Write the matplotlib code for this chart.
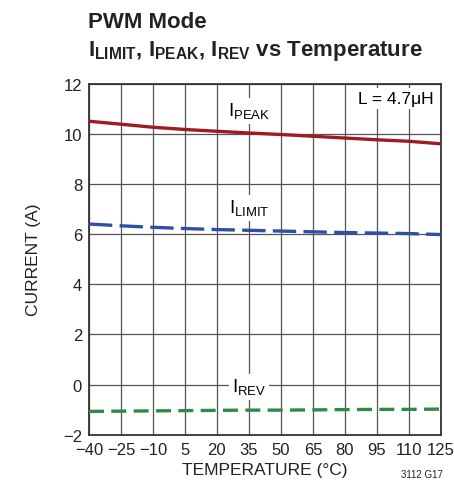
import matplotlib
matplotlib.use('Agg')
import matplotlib.pyplot as plt
from matplotlib import font_manager

# pick a narrow face if one is there
names = {f.name for f in font_manager.fontManager.ttflist}
family = 'Liberation Sans Narrow' if 'Liberation Sans Narrow' in names else 'Liberation Sans'
plt.rcParams['font.family'] = [family, 'DejaVu Sans']

temps = [-40, -25, -10, 5, 20, 35, 50, 65, 80, 95, 110, 125]
i_peak = [10.5, 10.38, 10.26, 10.17, 10.1, 10.03, 9.97, 9.9, 9.83, 9.76, 9.7, 9.6]
i_limit = [6.4, 6.33, 6.27, 6.22, 6.18, 6.15, 6.12, 6.09, 6.06, 6.04, 6.02, 5.98]
i_rev = [-1.07, -1.06, -1.05, -1.04, -1.03, -1.02, -1.02, -1.01, -1.0, -0.99, -0.99, -0.98]
yticks = [-2, 0, 2, 4, 6, 8, 10, 12]
xlabels = ['\u221240', '\u221225', '\u221210', '5', '20', '35', '50', '65', '80', '95', '110', '125']
ylabels = ['\u22122', '0', '2', '4', '6', '8', '10', '12']

fig = plt.figure(figsize=(4.54, 4.89), dpi=100)
ax = fig.add_axes([0.196, 0.109, 0.775, 0.718])

ax.plot(temps, i_peak, color='#9e1b22', lw=2.4, zorder=3)
ax.plot(temps, i_limit, color='#2f4fa3', lw=2.4, dashes=(7, 2.2), zorder=3)
ax.plot(temps, i_rev, color='#2f8a46', lw=2.4, dashes=(4.5, 2.2), zorder=3)

ax.set_xlim(-40, 125)
ax.set_ylim(-2, 12)
ax.set_xticks(temps)
ax.set_xticklabels(xlabels)
ax.set_yticks(yticks)
ax.set_yticklabels(ylabels)
ax.tick_params(length=0, labelsize=12, pad=5, colors='#222222')
ax.grid(True, color='#555555', lw=0.9)
ax.set_axisbelow(True)
for s in ax.spines.values():
    s.set_color('#333333')
    s.set_linewidth(1.3)

ax.set_xlabel('TEMPERATURE (\u00b0C)', fontsize=12.5, color='#222222', labelpad=4)
ax.set_ylabel('CURRENT (A)', fontsize=12.5, color='#222222', labelpad=16)

box = dict(facecolor='white', edgecolor='none', pad=2)
ax.text(35, 10.9, r'I$_{\mathregular{PEAK}}$', fontsize=13.5, ha='center', va='center', bbox=box, zorder=4)
ax.text(35, 7.05, r'I$_{\mathregular{LIMIT}}$', fontsize=13.5, ha='center', va='center', bbox=box, zorder=4)
ax.text(35, -0.08, r'I$_{\mathregular{REV}}$', fontsize=13.5, ha='center', va='center', bbox=box, zorder=4)
ax.text(121.5, 11.4, 'L = 4.7\u03bcH', fontsize=12.5, ha='right', va='center', bbox=box, zorder=4)

fig.text(0.194, 0.955, 'PWM Mode', fontsize=16, fontweight='bold', color='#222222', va='center')
fig.text(0.194, 0.895, r'I$_{\mathregular{LIMIT}}$, I$_{\mathregular{PEAK}}$, I$_{\mathregular{REV}}$ vs Temperature',
         fontsize=16, fontweight='bold', color='#222222', va='center')
fig.text(0.975, 0.022, '3112 G17', fontsize=7, ha='right', color='#222222')

fig.savefig('out.png', dpi=100)
